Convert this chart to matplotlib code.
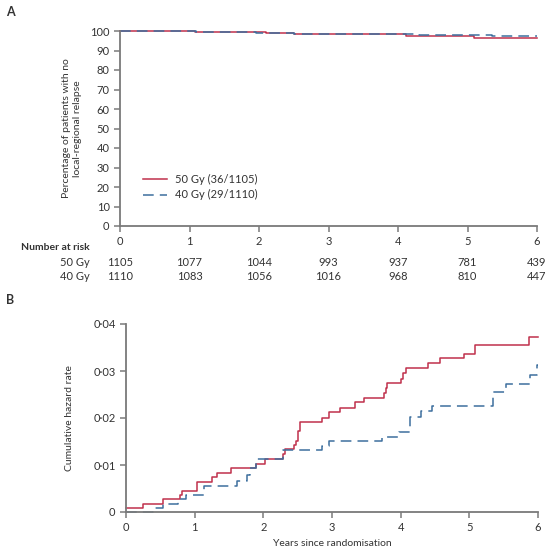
import numpy as np
import matplotlib.pyplot as plt
from matplotlib.ticker import FuncFormatter
from matplotlib.transforms import blended_transform_factory

plt.rcParams['font.family'] = ['Lato', 'DejaVu Sans']

# ---------------- data ----------------
years = [0, 1, 2, 3, 4, 5, 6]
risk_50 = [1105, 1077, 1044, 993, 937, 781, 439]
risk_40 = [1110, 1083, 1056, 1016, 968, 810, 447]

# panel A: percentage with no local-regional relapse (step times / values)
km50_t = [0, 1.08, 2.10, 2.50, 4.12, 5.10, 6.0]
km50_v = [100, 99.4, 98.9, 98.4, 97.3, 96.5, 96.5]
km40_t = [0, 1.10, 1.95, 2.50, 4.30, 5.35, 6.0]
km40_v = [100, 99.5, 98.9, 98.5, 98.1, 97.3, 97.3]

# panel B: cumulative hazard rate
ch50_t = [0, 0.25, 0.54, 0.79, 0.82, 1.03, 1.25, 1.33, 1.53, 1.90, 2.02, 2.29, 2.31,
          2.44, 2.47, 2.50, 2.53, 2.85, 2.95, 3.12, 3.34, 3.47, 3.76, 3.78, 3.80,
          4.00, 4.04, 4.08, 4.40, 4.57, 4.92, 5.08, 5.87, 6.0]
ch50_v = [0.0008, 0.0017, 0.0027, 0.0036, 0.0045, 0.0063, 0.0074, 0.0083, 0.0094,
          0.0103, 0.0113, 0.0123, 0.0135, 0.0143, 0.0152, 0.0172, 0.0191, 0.0201,
          0.0212, 0.0221, 0.0233, 0.0242, 0.0253, 0.0263, 0.0274, 0.0282, 0.0296,
          0.0306, 0.0318, 0.0327, 0.0337, 0.0355, 0.0373, 0.0373]
ch40_t = [0, 0.40, 0.54, 0.76, 0.87, 1.13, 1.61, 1.76, 1.80, 1.90, 2.29, 2.85, 2.95,
          3.73, 3.98, 4.13, 4.29, 4.45, 5.35, 5.53, 5.88, 5.99, 6.0]
ch40_v = [0, 0.0008, 0.0018, 0.0028, 0.0036, 0.0055, 0.0065, 0.0079, 0.0093, 0.0113,
          0.0132, 0.0141, 0.0151, 0.0160, 0.0171, 0.0202, 0.0215, 0.0226, 0.0256,
          0.0272, 0.0291, 0.0313, 0.0313]

red = '#c0304c'
blue = '#3d6f9e'
grey = '#7a7a7a'
txt = '#333333'

fig = plt.figure(figsize=(5.48, 5.5), dpi=100)
ax_a = fig.add_axes([120 / 548, 1 - 226 / 550, 417 / 548, 195 / 550])
ax_b = fig.add_axes([126 / 548, 1 - 512 / 550, 412 / 548, 188 / 550])


def style(ax):
    for s in ['top', 'right']:
        ax.spines[s].set_visible(False)
    for s in ['left', 'bottom']:
        ax.spines[s].set_color(grey)
        ax.spines[s].set_linewidth(1.3)
    ax.tick_params(colors=grey, labelcolor=txt, labelsize=8, length=4, width=1.1)


# ---------------- panel A ----------------
ax_a.step(km50_t, km50_v, where='post', color=red, lw=1.1, clip_on=False,
          label='50 Gy (36/1105)')
ax_a.step(km40_t, km40_v, where='post', color=blue, lw=1.1, ls=(0, (7, 4)),
          clip_on=False, label='40 Gy (29/1110)')
ax_a.set_xlim(0, 6)
ax_a.set_ylim(0, 100)
ax_a.set_yticks(range(0, 101, 10))
ax_a.set_xticks(years)
style(ax_a)
ax_a.tick_params(axis='x', pad=3)
ax_a.set_ylabel('Percentage of patients with no\nlocal-regional relapse',
                fontsize=7.5, color=txt, labelpad=6)
ax_a.legend(loc='lower left', bbox_to_anchor=(0.03, 0.08), frameon=False,
            fontsize=8, handlelength=2.2, handletextpad=0.7, labelspacing=0.4,
            labelcolor=txt)

tr = blended_transform_factory(ax_a.transData, fig.transFigure)
fig.text(90 / 548, 1 - 248 / 550, 'Number at risk', ha='right', va='center',
         fontsize=7.5, fontweight='bold', color=txt)
fig.text(90 / 548, 1 - 262 / 550, '50 Gy', ha='right', va='center', fontsize=8, color=txt)
fig.text(90 / 548, 1 - 276 / 550, '40 Gy', ha='right', va='center', fontsize=8, color=txt)
for x, r50, r40 in zip(years, risk_50, risk_40):
    ax_a.text(x, 1 - 262 / 550, str(r50), transform=tr, ha='center', va='center',
              fontsize=8, color=txt)
    ax_a.text(x, 1 - 276 / 550, str(r40), transform=tr, ha='center', va='center',
              fontsize=8, color=txt)

# ---------------- panel B ----------------
ax_b.step(ch50_t, ch50_v, where='post', color=red, lw=1.1, clip_on=False)
ax_b.step(ch40_t, ch40_v, where='post', color=blue, lw=1.1, ls=(0, (7, 4)),
          clip_on=False)
ax_b.set_xlim(0, 6)
ax_b.set_ylim(0, 0.04)
ax_b.set_xticks(years)
ax_b.set_yticks([0, 0.01, 0.02, 0.03, 0.04])
ax_b.yaxis.set_major_formatter(
    FuncFormatter(lambda v, p: '0' if v == 0 else f'{v:.2f}'.replace('.', '\u00b7')))
style(ax_b)
ax_b.set_ylabel('Cumulative hazard rate', fontsize=7.5, color=txt, labelpad=14)
ax_b.set_xlabel('Years since randomisation', fontsize=7.5, color=txt, labelpad=4)

fig.text(6 / 548, 1 - 12 / 550, 'A', fontsize=9, fontweight='bold', color=txt, va='center')
fig.text(6 / 548, 1 - 300 / 550, 'B', fontsize=9, fontweight='bold', color=txt, va='center')

fig.savefig('out.png', dpi=100)
